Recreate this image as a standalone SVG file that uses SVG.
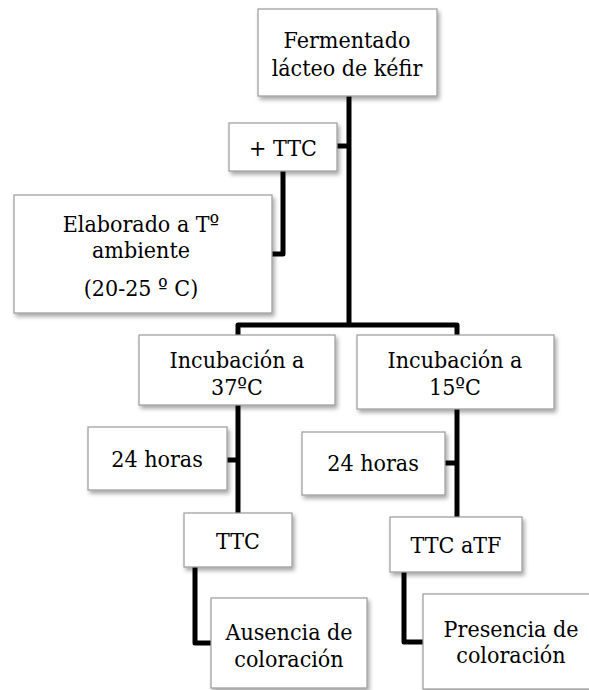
<svg xmlns="http://www.w3.org/2000/svg" width="589" height="690" viewBox="0 0 589 690">
<style>
.box{fill:#ffffff;stroke:#9a9a9a;stroke-width:1.2;filter:url(#sh)}
text{font-family:'DejaVu Serif',serif;font-stretch:condensed;font-size:23px;fill:#000;text-anchor:middle}
.c{fill:none;stroke:#000;stroke-width:5;stroke-linejoin:round;stroke-linecap:butt}
</style>
<defs>
<filter id="sh" x="-10%" y="-10%" width="130%" height="140%">
<feDropShadow dx="2" dy="3" stdDeviation="2" flood-color="#000" flood-opacity="0.35"/>
</filter>
</defs>
<rect width="589" height="690" fill="#ffffff"/>
<g id="connectors">
<path class="c" d="M349,96 V325"/>
<path class="c" d="M337,146 H349"/>
<path class="c" d="M238,335 V325 H457 V335"/>
<path class="c" d="M283,171 V254 H272"/>
<path class="c" d="M238,405 V513"/>
<path class="c" d="M227,460 H238"/>
<path class="c" d="M457,409 V517"/>
<path class="c" d="M445,463 H457"/>
<path class="c" d="M195,567 V643 H211"/>
<path class="c" d="M404,572 V642 H423"/>
</g>
<g id="n-fermentado">
<rect class="box" x="258" y="9" width="179" height="87"/>
<text x="347" y="48">Fermentado</text>
<text x="347" y="76">lácteo de kéfir</text>
</g>
<g id="n-ttc-add">
<rect class="box" x="229" y="123" width="108" height="48"/>
<text x="283" y="156">+ TTC</text>
</g>
<g id="n-elaborado">
<rect class="box" x="14" y="195" width="258" height="118"/>
<text x="141" y="232">Elaborado a Tº</text>
<text x="141" y="258">ambiente</text>
<text x="141" y="296">(20-25 º C)</text>
</g>
<g id="n-inc37">
<rect class="box" x="139" y="335" width="196" height="70"/>
<text x="237" y="368">Incubación a</text>
<text x="237" y="395">37ºC</text>
</g>
<g id="n-inc15">
<rect class="box" x="357" y="335" width="197" height="74"/>
<text x="455" y="368">Incubación a</text>
<text x="455" y="395">15ºC</text>
</g>
<g id="n-24h-left">
<rect class="box" x="88" y="427" width="139" height="63"/>
<text x="157" y="467">24 horas</text>
</g>
<g id="n-24h-right">
<rect class="box" x="302" y="432" width="143" height="63"/>
<text x="373" y="471">24 horas</text>
</g>
<g id="n-ttc">
<rect class="box" x="184" y="513" width="108" height="54"/>
<text x="238" y="549">TTC</text>
</g>
<g id="n-ttc-atf">
<rect class="box" x="390" y="517" width="132" height="55"/>
<text x="456" y="553">TTC aTF</text>
</g>
<g id="n-ausencia">
<rect class="box" x="211" y="598" width="156" height="90"/>
<text x="289" y="640">Ausencia de</text>
<text x="289" y="667">coloración</text>
</g>
<g id="n-presencia">
<rect class="box" x="423" y="594" width="177" height="95"/>
<text x="511" y="637">Presencia de</text>
<text x="511" y="663">coloración</text>
</g>
</svg>
